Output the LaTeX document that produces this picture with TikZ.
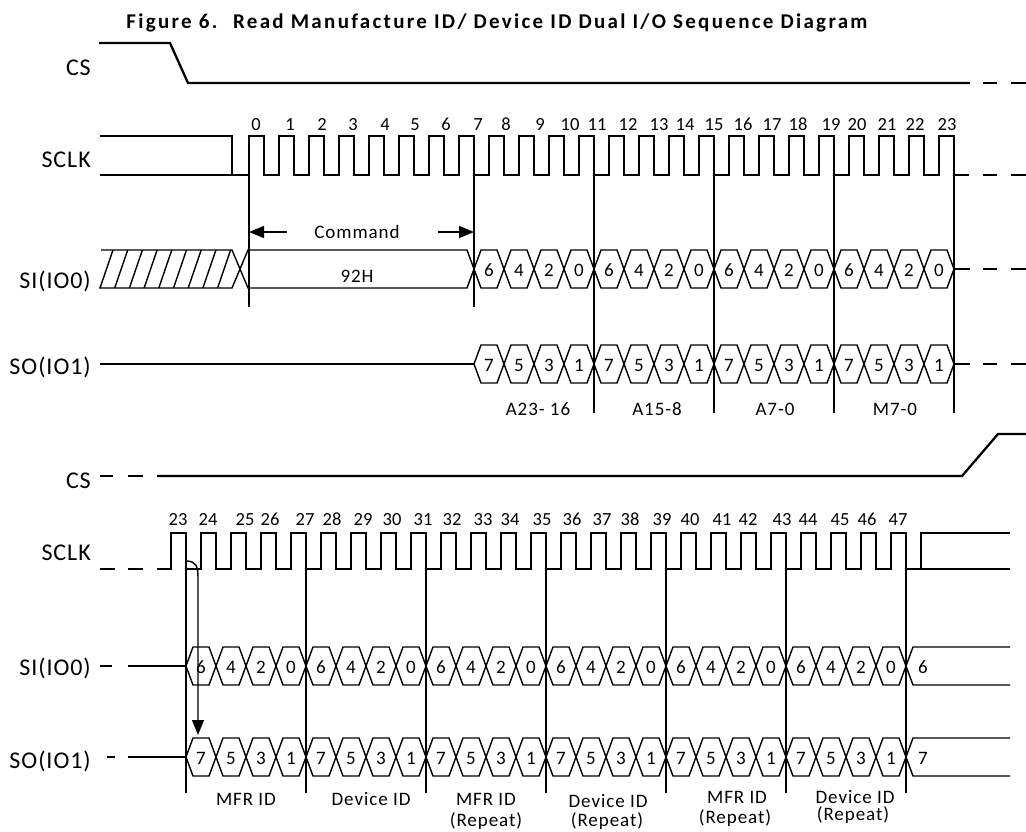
\documentclass[tikz,border=0pt]{standalone}
\usepackage{fontspec}
\setmainfont{Carlito}
\newfontfamily\lsfont[LetterSpace=4]{Carlito}
\newfontfamily\segfont[LetterSpace=5]{Carlito}
\newfontfamily\titlefont[LetterSpace=11]{Carlito}
\usetikzlibrary{arrows.meta}
\newcommand\hexc[4]{%
  \draw[sig] (#1,#2) -- ++(7,-19) -- ++(16,0) -- ++(7,19) -- ++(-7,19) -- ++(-16,0) -- cycle;
  \node[hexd] (#4) at ({#1+15},{#2+1}) {#3};}
\begin{document}
\begin{tikzpicture}[x=1pt,y=-1pt,
  sig/.style={line width=1.4pt},
  csl/.style={line width=2.3pt},
  siglbl/.style={font=\lsfont\fontsize{24}{24}\selectfont, anchor=base east, inner sep=0pt},
  clk/.style={font=\fontsize{18.5}{18.5}\selectfont, anchor=base, inner sep=0pt},
  hexd/.style={font=\fontsize{19}{19}\selectfont, inner sep=0pt},
  seg/.style={font=\segfont\fontsize{19}{19}\selectfont, anchor=base, inner sep=0pt},
  tip/.style={-{Triangle[length=15pt,width=12pt]}}]
\useasboundingbox (0,0) rectangle (1026,831);

% title
\node[font=\titlefont\bfseries\fontsize{21}{21}\selectfont, anchor=base, inner sep=0pt] (title) at (497,28)
  {Figure 6.\hspace{0.3em} Read Manufacture ID/ Device ID Dual I/O Sequence Diagram};

% ---------------- top section ----------------
\node[siglbl] (lcs1) at (91,75) {CS};
\node[siglbl] (lclk1) at (91,167) {SCLK};
\node[siglbl] (lsi1) at (91,288) {SI(IO0)};
\node[siglbl] (lso1) at (91,374) {SO(IO1)};

% CS
\draw[csl] (99,43) -- (170,43) -- (188,83) -- (970,83);
\draw[sig] (983,83) -- (997,83) (1011,83) -- (1026,83);

% SCLK
\draw[sig] (100,136) -- (232,136) -- (232,175);
\draw[sig] (100,175) -- (249,175)
  \foreach \k in {0,...,23}{ -- ++(0,-39) -- ++(15,0) -- ++(0,39) -- ++(15,0) };
\draw[sig] (983,175) -- (997,175) (1011,175) -- (1026,175);
\foreach \n/\x in {0/256,1/290,2/322,3/353,4/385,5/415,6/446,7/478,8/506,9/540,10/570,11/597,12/628,13/659,14/685,15/714,16/743,17/772,18/798,19/831,20/857,21/887,22/915,23/947}
  \node[clk] (ct\n) at (\x,130) {\n};

% boundary lines
\draw[sig] (249,136) -- (249,307) (474,136) -- (474,307);
\foreach \x in {594,714,834,954} \draw[sig] (\x,136) -- (\x,413);

% command arrows
\node[seg, anchor=center] (cmd) at (357,232) {Command};
\coordinate (c0) at (249,232);
\coordinate (c7) at (474,232);
\draw[sig,tip] (287,232) -- (c0);
\draw[sig,tip] (438,232) -- (c7);

% SI top: hatched + command box
\draw[sig] (101,250) -- (232,250) -- (240,269) -- (232,288) -- (99,288);
\foreach \i in {0,...,8} \draw[sig] ({100+14.7*\i},288) -- ({113+14.7*\i},250);
\draw[sig] (240,269) -- (248,250) -- (467,250) -- (474,269) -- (467,288) -- (248,288) -- cycle;
\node[seg, anchor=center] (cmdval) at (357,276) {92H};
\foreach \g in {0,...,3}{
  \foreach \v [count=\j from 0] in {6,4,2,0}{
    \pgfmathsetmacro\xa{474+120*\g+30*\j}
    \hexc{\xa}{269}{\v}{sia\g\j}
  }}
\draw[sig] (954,269) -- (970,269) (983,269) -- (997,269) (1011,269) -- (1026,269);

% SO top
\draw[sig] (100,364) -- (474,364);
\foreach \g in {0,...,3}{
  \foreach \v [count=\j from 0] in {7,5,3,1}{
    \pgfmathsetmacro\xa{474+120*\g+30*\j}
    \hexc{\xa}{364}{\v}{soa\g\j}
  }}
\draw[sig] (954,364) -- (970,364) (983,364) -- (997,364) (1011,364) -- (1026,364);

\node[seg] (sg1) at (538,415) {A23- 16};
\node[seg] (sg2) at (657,415) {A15-8};
\node[seg] (sg3) at (775,415) {A7-0};
\node[seg] (sg4) at (895,415) {M7-0};

% ---------------- bottom section ----------------
\node[siglbl] (lcs2) at (91,488) {CS};
\node[siglbl] (lclk2) at (91,560) {SCLK};
\node[siglbl] (lsi2) at (91,675) {SI(IO0)};
\node[siglbl] (lso2) at (91,768) {SO(IO1)};

% CS
\draw[sig] (100,476) -- (113,476) (128,476) -- (143,476);
\draw[csl] (157,476) -- (962,476) -- (998,434) -- (1026,434);

% SCLK
\draw[sig] (100,569) -- (115,569) (128,569) -- (143,569);
\draw[sig] (157,569) -- (171,569)
  \foreach \k in {23,...,47}{ -- ++(0,-36) -- ++(15,0) -- ++(0,36) -- ++(15,0) };
\draw[sig] (921,569) -- (1010,569) (921,569) -- (921,533) -- (1010,533);
\foreach \n/\x in {23/178,24/208,25/245,26/270,27/305,28/332,29/363,30/392,31/423,32/452,33/483,34/510,35/542,36/572,37/602,38/630,39/662,40/690,41/722,42/748,43/782,44/808,45/840,46/867,47/898}
  \node[clk] (cb\n) at (\x,525) {\n};

% boundary lines
\foreach \x in {186,306,426,546,666,786,906} \draw[sig] (\x,533) -- (\x,793);

% SI bottom
\draw[sig] (100,666) -- (112,666) (128,666) -- (186,666);
\foreach \g in {0,...,5}{
  \foreach \v [count=\j from 0] in {6,4,2,0}{
    \pgfmathsetmacro\xa{186+120*\g+30*\j}
    \hexc{\xa}{666}{\v}{sib\g\j}
  }}
\draw[sig] (1010,647) -- (913,647) -- (906,666) -- (913,685) -- (1010,685);
\node[hexd] (siend) at (923,667) {6};

% SO bottom
\draw[sig] (107,757) -- (115,757) (128,757) -- (186,757);
\foreach \g in {0,...,5}{
  \foreach \v [count=\j from 0] in {7,5,3,1}{
    \pgfmathsetmacro\xa{186+120*\g+30*\j}
    \hexc{\xa}{757}{\v}{sob\g\j}
  }}
\draw[sig] (1010,738) -- (913,738) -- (906,757) -- (913,776) -- (1010,776);
\node[hexd] (soend) at (923,758) {7};

% curved arrow
\coordinate (fall23) at (186,561);
\coordinate (so7) at (198,735);
\draw[sig,tip] (fall23) .. controls (196,561) and (198,566) .. (198,578) -- (so7);

% group labels
\node[seg] (g1) at (246,805) {MFR ID};
\node[seg] (g2) at (371,805) {Device ID};
\node[seg] (g3) at (486,805) {MFR ID};
\node[seg] (g3r) at (486,826) {(Repeat)};
\node[seg] (g4) at (608,807) {Device ID};
\node[seg] (g4r) at (607,826) {(Repeat)};
\node[seg] (g5) at (737,803) {MFR ID};
\node[seg] (g5r) at (735,823) {(Repeat)};
\node[seg] (g6) at (855,803) {Device ID};
\node[seg] (g6r) at (853,820) {(Repeat)};
\end{tikzpicture}
\end{document}
